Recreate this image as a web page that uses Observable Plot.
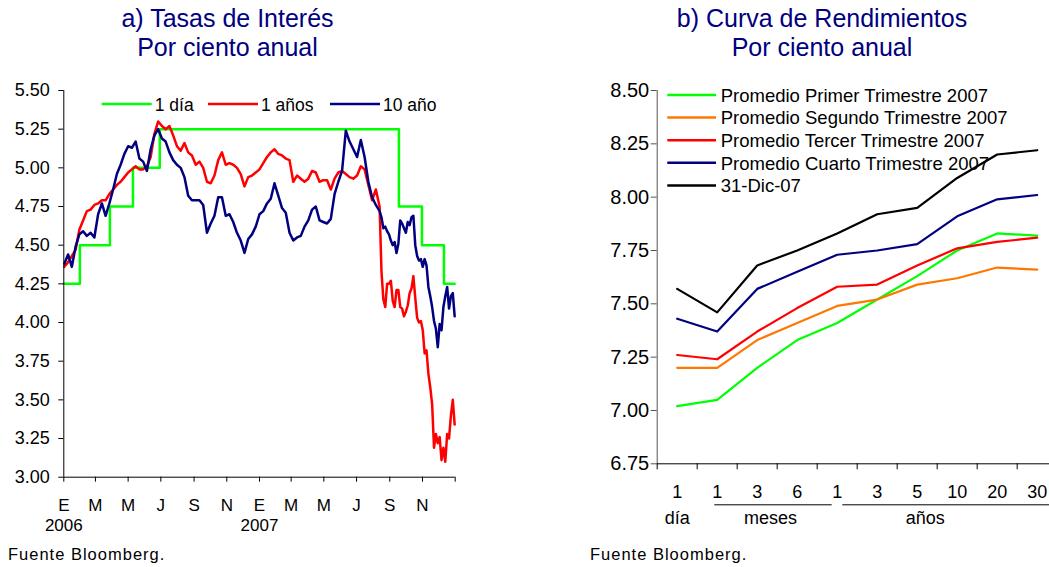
<!DOCTYPE html>
<html>
<head>
<meta charset="utf-8">
<script src="https://cdn.jsdelivr.net/npm/d3@7"></script>
<script src="https://cdn.jsdelivr.net/npm/@observablehq/plot@0.6"></script>
<style>
html, body { margin: 0; padding: 0; background: #fff; }
body { width: 1049px; height: 567px; overflow: hidden; position: relative; font-family: "Liberation Sans", Arial, sans-serif; }
.abs { position: absolute; width: 470px; height: 540px; }
.abs svg { max-width: none !important; }
#overlay { position: absolute; left: 0; top: 0; pointer-events: none; }
</style>
</head>
<body>
<div id="chartA" class="abs" style="left:0;top:0"></div>
<div id="chartB" class="abs" style="left:590px;top:0"></div>
<svg id="overlay" width="1049" height="567"></svg>
<script>
// ---------------- DATA ----------------
// Panel a) weekly observations (Mondays) starting 2006-01-02
const weekStart = "2006-01-02";
const oneYear = [
  4.36, 4.39, 4.43, 4.47, 4.60, 4.66, 4.72, 4.73, 4.76, 4.77,
  4.79, 4.79, 4.83, 4.86, 4.89, 4.91, 4.94, 4.97, 4.99, 5.01,
  4.99, 4.99, 5.01, 5.07, 5.22, 5.30, 5.27, 5.25, 5.27, 5.21,
  5.14, 5.11, 5.16, 5.10, 5.08, 5.02, 5.04, 5.00, 4.91, 4.90,
  4.95, 5.05, 5.10, 5.02, 5.03, 5.02, 5.00, 4.96, 4.88, 4.94,
  4.95, 4.97, 4.99, 5.03, 5.07, 5.10, 5.12, 5.09, 5.08, 5.06,
  5.05, 4.91, 4.95, 4.93, 4.91, 4.93, 4.98, 4.97, 4.91, 4.92,
  4.92, 4.86, 4.93, 4.97, 4.98, 4.96, 4.94, 4.93, 4.95, 5.01,
  4.99, 4.89, 4.79, 4.86, 4.75, 4.15, 4.25, 4.27, 4.10, 4.21,
  4.09, 4.07, 4.19, 4.30, 4.03, 4.01, 3.80, 3.67, 3.47, 3.28,
  3.26, 3.19, 3.28, 3.40, 3.34
];
const tenYear = [
  4.38, 4.44, 4.36, 4.49, 4.57, 4.59, 4.56, 4.58, 4.55, 4.70,
  4.77, 4.69, 4.77, 4.86, 4.96, 5.02, 5.09, 5.14, 5.13, 5.17,
  5.06, 5.04, 4.98, 5.12, 5.21, 5.25, 5.19, 5.17, 5.10, 5.05,
  5.02, 5.00, 4.94, 4.82, 4.79, 4.79, 4.79, 4.76, 4.58, 4.64,
  4.69, 4.81, 4.81, 4.69, 4.70, 4.65, 4.58, 4.53, 4.45, 4.54,
  4.57, 4.62, 4.70, 4.72, 4.77, 4.80, 4.90, 4.82, 4.74, 4.71,
  4.58, 4.53, 4.55, 4.56, 4.62, 4.66, 4.73, 4.75, 4.66, 4.65,
  4.64, 4.67, 4.83, 4.91, 4.98, 5.24, 5.17, 5.12, 5.07, 5.18,
  5.07, 4.91, 4.81, 4.76, 4.72, 4.61, 4.59, 4.53, 4.52, 4.51,
  4.64, 4.58, 4.63, 4.69, 4.43, 4.41, 4.41, 4.23, 4.10, 3.96,
  3.99, 4.10, 4.23, 4.17, 4.04
];
// Extra mid-week observations for the volatile stretch (week 84.5 .. 103.5)
const midWeekFirst = 84;
const oneYearMid = [
  4.33, 4.10, 4.25, 4.14, 4.21, 4.10, 4.04, 4.11, 4.22, 4.16,
  4.00, 3.95, 3.82, 3.58, 3.19, 3.22, 3.11, 3.10, 3.25, 3.50
];
const tenYearMid = [
  4.68, 4.62, 4.57, 4.50, 4.45, 4.66, 4.61, 4.65, 4.68, 4.50,
  4.40, 4.36, 4.37, 4.17, 4.01, 3.84, 3.95, 4.17, 4.09, 4.19
];
// 1 día (overnight target) step changes
const oneDayDates = ["2006-01-01", "2006-01-31", "2006-03-28", "2006-05-10", "2006-06-29", "2007-09-18", "2007-10-31", "2007-12-11", "2007-12-31"];
const oneDayRates = [4.25, 4.50, 4.75, 5.00, 5.25, 4.75, 4.50, 4.25, 4.25];

const seriesNamesA = ["1 día", "1 años", "10 año"];
const seriesColorsA = ["#00FF00", "#FF0000", "#000080"];
const xDomainA = ["2006-01-01", "2008-01-01"];
const xTicksA = ["2006-01-01","2006-03-01","2006-05-01","2006-07-01","2006-09-01","2006-11-01",
                 "2007-01-01","2007-03-01","2007-05-01","2007-07-01","2007-09-01","2007-11-01","2008-01-01"];
const monthLetters = ["E","F","M","A","M","J","J","A","S","O","N","D"];
const yTicksA = [3.00, 3.25, 3.50, 3.75, 4.00, 4.25, 4.50, 4.75, 5.00, 5.25, 5.50];

// Panel b) yield curves
const tenorLabels = ["1", "1", "3", "6", "1", "3", "5", "10", "20", "30"];
const groupLabels = ["día", "meses", "años"];
const groupCenters = [0, 2.33, 6.2];
const underlineFrom = [0.94, 4.14];
const underlineTo = [3.875, 9.9];
const q1 = [7.02, 7.05, 7.20, 7.33, 7.41, 7.52, 7.63, 7.75, 7.83, 7.82];
const q2 = [7.20, 7.20, 7.33, 7.41, 7.49, 7.52, 7.59, 7.62, 7.67, 7.66];
const q3 = [7.26, 7.24, 7.37, 7.48, 7.58, 7.59, 7.68, 7.76, 7.79, 7.81];
const q4 = [7.43, 7.37, 7.57, 7.65, 7.73, 7.75, 7.78, 7.91, 7.99, 8.01];
const dec31 = [7.57, 7.46, 7.68, 7.75, 7.83, 7.92, 7.95, 8.09, 8.20, 8.22];
const seriesNamesB = ["Promedio Primer Trimestre 2007", "Promedio Segundo Trimestre 2007", "Promedio Tercer Trimestre 2007", "Promedio Cuarto Trimestre 2007", "31-Dic-07"];
const seriesColorsB = ["#00FF00", "#FF7700", "#FF0000", "#000080", "#000000"];
const yDomainB = [6.75, 8.50];
const yTicksB = [6.75, 7.00, 7.25, 7.50, 7.75, 8.00, 8.25, 8.50];

// ---------------- BUILD ----------------
const parse = s => new Date(s + "T00:00:00Z");
const start = parse(weekStart);
const weekDate = w => d3.utcHour.offset(start, Math.round(w * 7 * 24));
const buildSeries = (weeklyVals, midVals) =>
  weeklyVals.map((v, i) => ({date: weekDate(i), v}))
    .concat(midVals.map((v, i) => ({date: weekDate(midWeekFirst + i + 0.5), v})))
    .sort((a, b) => a.date - b.date);
const dataOne = buildSeries(oneYear, oneYearMid);
const dataTen = buildSeries(tenYear, tenYearMid);
const dataDay = oneDayDates.map((d, i) => ({date: parse(d), v: oneDayRates[i]}));
const fmt2 = d3.format(".2f");

const chartA = Plot.plot({
  width: 470, height: 540,
  marginLeft: 63.3, marginRight: 15.3, marginTop: 90, marginBottom: 63.3,
  style: {fontFamily: "Liberation Sans, Arial, sans-serif", fontSize: "17px", color: "#000", background: "transparent", overflow: "visible", maxWidth: "none"},
  x: {type: "utc", domain: xDomainA.map(parse), label: null},
  y: {domain: [yTicksA[0], yTicksA[yTicksA.length - 1]], label: null},
  marks: [
    Plot.line(dataDay, {x: "date", y: "v", stroke: seriesColorsA[0], strokeWidth: 2.5, curve: "step-after"}),
    Plot.line(dataOne, {x: "date", y: "v", stroke: seriesColorsA[1], strokeWidth: 2.5}),
    Plot.line(dataTen, {x: "date", y: "v", stroke: seriesColorsA[2], strokeWidth: 2.5}),
    Plot.ruleX([parse(xDomainA[0])], {stroke: "#000", strokeWidth: 1}),
    Plot.ruleY([yTicksA[0]], {stroke: "#000", strokeWidth: 1}),
    Plot.axisY({ticks: yTicksA, tickSize: 5, tickPadding: 9, tickFormat: fmt2, fontSize: 18, label: null, stroke: "#000"}),
    Plot.axisX({ticks: xTicksA.map(parse), tickSize: 5, tickPadding: 15, lineHeight: 1.16, label: null, stroke: "#000",
      tickFormat: (d, i) => i === xTicksA.length - 1 ? "" : monthLetters[d.getUTCMonth()] + (d.getUTCMonth() === 0 ? "\n" + d.getUTCFullYear() : "")})
  ]
});
document.getElementById("chartA").appendChild(chartA);

const idx = d3.range(tenorLabels.length);
const curves = [q1, q2, q3, q4, dec31];
const chartB = Plot.plot({
  width: 470, height: 540,
  marginLeft: 66.7, marginRight: 3.3, marginTop: 90, marginBottom: 76.7,
  style: {fontFamily: "Liberation Sans, Arial, sans-serif", fontSize: "18px", color: "#000", background: "transparent", overflow: "visible", maxWidth: "none"},
  x: {domain: [-0.5, tenorLabels.length - 0.5], label: null},
  y: {domain: yDomainB, label: null},
  marks: [
    ...curves.map((c, k) => Plot.line(idx, {x: i => i, y: i => c[i], stroke: seriesColorsB[k], strokeWidth: 2.2})),
    Plot.ruleX([-0.5], {stroke: "#555", strokeWidth: 1}),
    Plot.ruleY([yDomainB[0]], {stroke: "#000", strokeWidth: 1}),
    Plot.axisY({ticks: yTicksB, tickSize: 6, tickPadding: 2, tickFormat: fmt2, fontSize: 20, label: null, stroke: "#555"}),
    Plot.axisX({ticks: idx, tickSize: 0, tickPadding: 21, tickFormat: i => tenorLabels[i], fontSize: 18, label: null}),
    Plot.axisX({ticks: d3.range(tenorLabels.length + 1).map(i => i - 0.5), tickSize: 6, tickFormat: () => "", label: null, stroke: "#000"}),
    Plot.text(groupLabels, {x: (d, i) => groupCenters[i], text: d => d, frameAnchor: "bottom", lineAnchor: "top", dy: 47, fontSize: 18}),
    Plot.ruleY(underlineFrom, {y: () => yDomainB[0], x1: d => d, x2: (d, i) => underlineTo[i], dy: 41, stroke: "#000", strokeWidth: 1})
  ]
});
document.getElementById("chartB").appendChild(chartB);

// ---------------- TITLES, LEGENDS, SOURCES ----------------
const ov = d3.select("#overlay").attr("font-family", "Liberation Sans, Arial, sans-serif");
const titles = [
  {x: 227.5, lines: ["a) Tasas de Interés", "Por ciento anual"]},
  {x: 822, lines: ["b) Curva de Rendimientos", "Por ciento anual"]}
];
titles.forEach(t => t.lines.forEach((l, j) =>
  ov.append("text").attr("x", t.x).attr("y", 27 + 29 * j).attr("text-anchor", "middle")
    .attr("font-size", 25).attr("fill", "#000080").text(l)));

// legend a
const legA = [101.7, 208, 330];
seriesNamesA.forEach((n, i) => {
  ov.append("line").attr("x1", legA[i]).attr("x2", legA[i] + 50).attr("y1", 104).attr("y2", 104)
    .attr("stroke", seriesColorsA[i]).attr("stroke-width", 2.5);
  ov.append("text").attr("x", legA[i] + 53).attr("y", 110.5).attr("font-size", 17.5).attr("fill", "#000").text(n);
});
// legend b
seriesNamesB.forEach((n, i) => {
  const y = 95 + 22.6 * i;
  ov.append("line").attr("x1", 667.3).attr("x2", 716).attr("y1", y).attr("y2", y)
    .attr("stroke", seriesColorsB[i]).attr("stroke-width", 2.5);
  ov.append("text").attr("x", 720.7).attr("y", y + 6.7).attr("font-size", 18.5).attr("fill", "#000").text(n);
});
// sources
[8, 590].forEach(x => ov.append("text").attr("x", x).attr("y", 560).attr("font-size", 16.5)
  .attr("letter-spacing", 1).attr("fill", "#000").text("Fuente Bloomberg."));
</script>
</body>
</html>
